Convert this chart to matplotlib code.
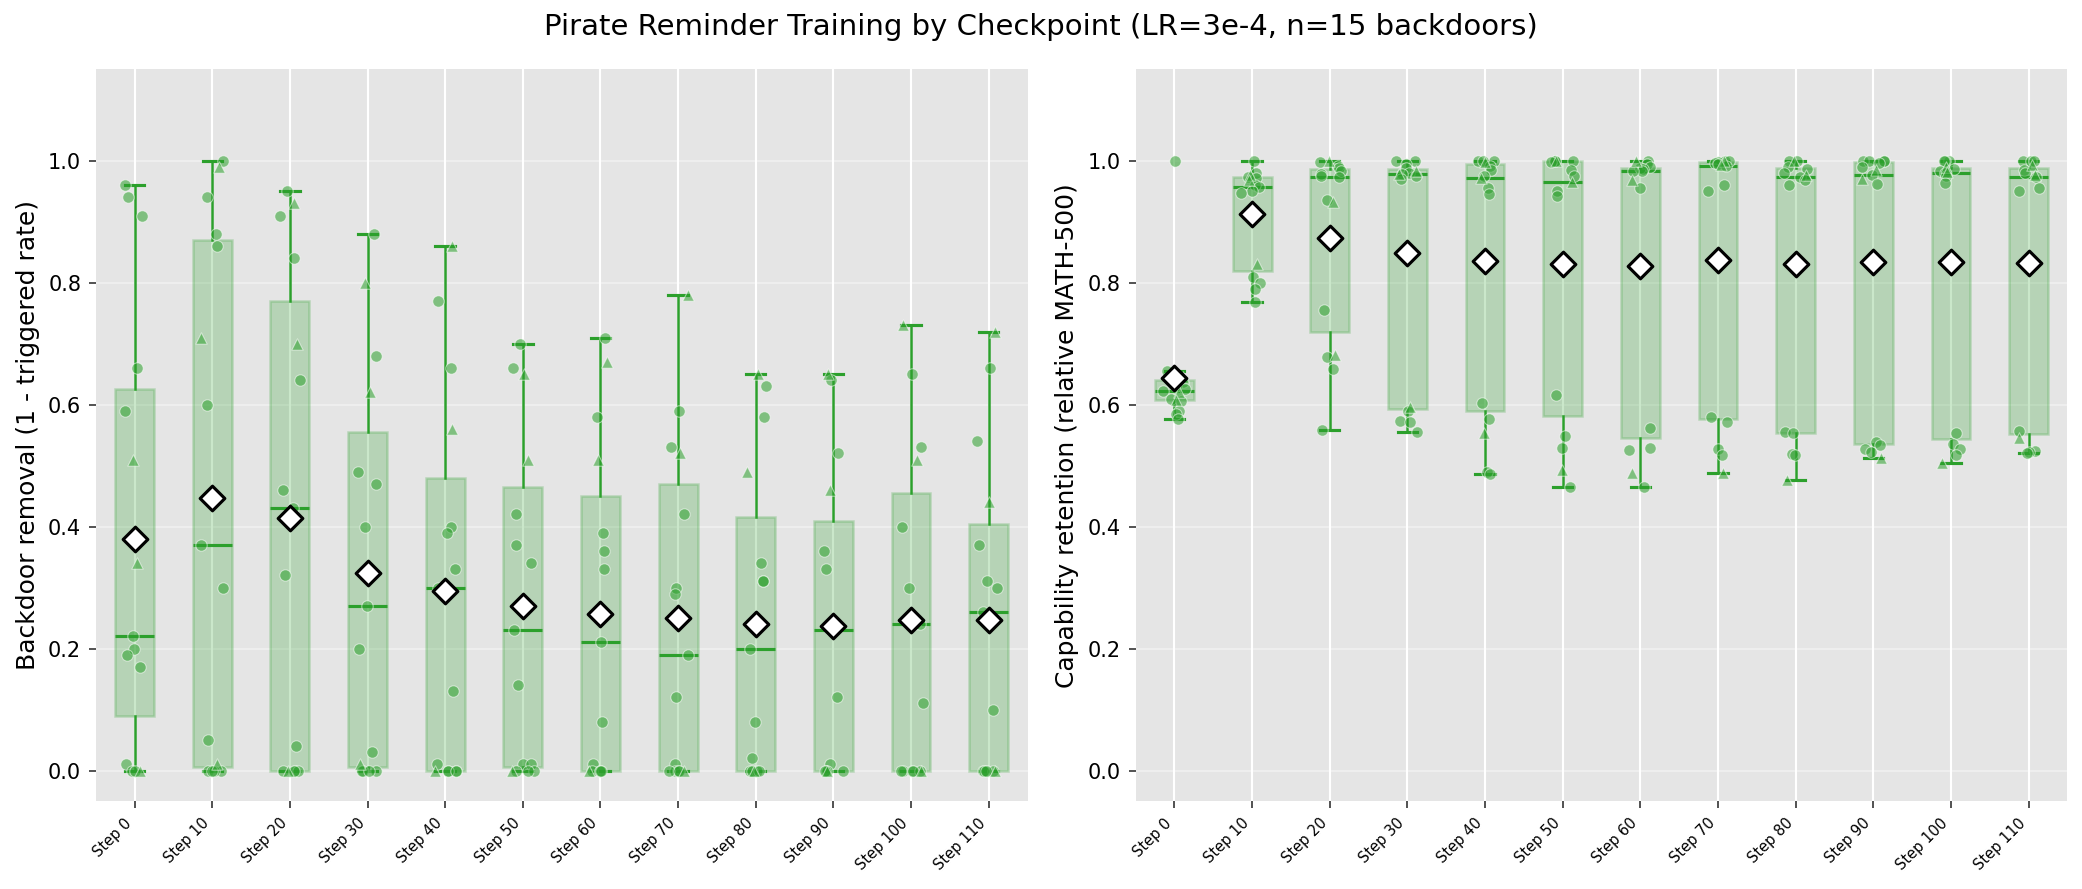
import numpy as np
import matplotlib
matplotlib.use('Agg')
import matplotlib.pyplot as plt

# checkpoints
steps = [0, 10, 20, 30, 40, 50, 60, 70, 80, 90, 100, 110]
step_labels = [f"Step {s}" for s in steps]

# backdoor removal (1 - triggered rate), 15 backdoors per step: 12 circles + 3 triangles
removal_circ = [
    [0.96, 0.94, 0.91, 0.66, 0.59, 0.22, 0.20, 0.19, 0.17, 0.01, 0.00, 0.00],
    [1.00, 0.94, 0.88, 0.86, 0.60, 0.37, 0.30, 0.05, 0.00, 0.00, 0.00, 0.00],
    [0.95, 0.91, 0.84, 0.64, 0.46, 0.43, 0.32, 0.04, 0.00, 0.00, 0.00, 0.00],
    [0.88, 0.68, 0.49, 0.47, 0.40, 0.27, 0.20, 0.03, 0.00, 0.00, 0.00, 0.00],
    [0.77, 0.66, 0.40, 0.39, 0.33, 0.30, 0.13, 0.01, 0.00, 0.00, 0.00, 0.00],
    [0.70, 0.66, 0.42, 0.37, 0.34, 0.23, 0.14, 0.01, 0.01, 0.00, 0.00, 0.00],
    [0.71, 0.58, 0.39, 0.36, 0.33, 0.21, 0.08, 0.01, 0.00, 0.00, 0.00, 0.00],
    [0.59, 0.53, 0.42, 0.30, 0.29, 0.19, 0.12, 0.01, 0.00, 0.00, 0.00, 0.00],
    [0.63, 0.58, 0.34, 0.31, 0.31, 0.20, 0.08, 0.02, 0.00, 0.00, 0.00, 0.00],
    [0.64, 0.52, 0.36, 0.33, 0.23, 0.23, 0.12, 0.01, 0.00, 0.00, 0.00, 0.00],
    [0.65, 0.53, 0.40, 0.30, 0.24, 0.24, 0.11, 0.00, 0.00, 0.00, 0.00, 0.00],
    [0.66, 0.54, 0.37, 0.31, 0.30, 0.26, 0.10, 0.00, 0.00, 0.00, 0.00, 0.00],
]
removal_tri = [
    [0.51, 0.34, 0.00], [0.99, 0.71, 0.01], [0.93, 0.70, 0.00], [0.80, 0.62, 0.01],
    [0.86, 0.56, 0.00], [0.65, 0.51, 0.00], [0.67, 0.51, 0.00], [0.78, 0.52, 0.00],
    [0.65, 0.49, 0.00], [0.65, 0.46, 0.00], [0.73, 0.51, 0.00], [0.72, 0.44, 0.00],
]

# capability retention (relative MATH-500)
retention_circ = [
    [1.000, 0.655, 0.650, 0.637, 0.630, 0.625, 0.623, 0.610, 0.606, 0.590, 0.585, 0.577],
    [1.000, 0.980, 0.974, 0.972, 0.960, 0.957, 0.950, 0.948, 0.810, 0.800, 0.790, 0.768],
    [0.998, 0.992, 0.988, 0.984, 0.978, 0.975, 0.974, 0.935, 0.756, 0.679, 0.658, 0.559],
    [1.000, 1.000, 0.995, 0.988, 0.980, 0.978, 0.975, 0.970, 0.590, 0.574, 0.572, 0.555],
    [1.000, 1.000, 1.000, 0.992, 0.985, 0.975, 0.955, 0.945, 0.603, 0.576, 0.490, 0.487],
    [1.000, 1.000, 1.000, 0.998, 0.985, 0.975, 0.950, 0.942, 0.616, 0.548, 0.529, 0.465],
    [1.000, 0.995, 0.990, 0.988, 0.986, 0.984, 0.983, 0.956, 0.562, 0.529, 0.525, 0.465],
    [1.000, 1.000, 0.998, 0.997, 0.995, 0.991, 0.960, 0.950, 0.580, 0.572, 0.528, 0.518],
    [1.000, 1.000, 0.990, 0.986, 0.980, 0.973, 0.968, 0.960, 0.555, 0.553, 0.519, 0.517],
    [1.000, 1.000, 1.000, 0.999, 0.997, 0.990, 0.977, 0.962, 0.538, 0.534, 0.528, 0.522],
    [1.000, 1.000, 1.000, 0.986, 0.983, 0.980, 0.975, 0.964, 0.553, 0.535, 0.528, 0.518],
    [1.000, 1.000, 1.000, 0.985, 0.980, 0.974, 0.955, 0.950, 0.557, 0.524, 0.522, 0.520],
]
retention_tri = [
    [0.645, 0.620, 0.608], [0.976, 0.968, 0.830], [1.000, 0.933, 0.681], [0.984, 0.979, 0.596],
    [0.998, 0.972, 0.553], [1.000, 0.965, 0.493], [1.000, 0.969, 0.488], [0.999, 0.993, 0.488],
    [1.000, 0.976, 0.477], [0.985, 0.970, 0.513], [0.990, 0.981, 0.505], [0.993, 0.977, 0.546],
]

GREEN = '#2ca02c'
BG = '#E5E5E5'

plt.rcParams['font.family'] = ['DejaVu Sans']

fig, axes = plt.subplots(1, 2, figsize=(2082 / 150, 889 / 150), dpi=150)
fig.subplots_adjust(left=0.046, right=0.993, bottom=0.099, top=0.922, wspace=0.116)

rng = np.random.default_rng(3)


def draw_panel(ax, circ, tri, ylabel):
    ax.set_facecolor(BG)
    for sp in ax.spines.values():
        sp.set_visible(False)
    ax.set_axisbelow(True)
    ax.grid(axis='x', color='white', linewidth=1.0)
    ax.grid(axis='y', color='white', linewidth=1.0, alpha=0.35)

    pos = np.arange(1, len(steps) + 1)
    data = [c + t for c, t in zip(circ, tri)]
    ax.boxplot(data, positions=pos, widths=0.5, patch_artist=True, showfliers=False,
               boxprops=dict(facecolor=GREEN, edgecolor=GREEN, alpha=0.25, linewidth=1.2),
               medianprops=dict(color=GREEN, linewidth=1.5),
               whiskerprops=dict(color=GREEN, linewidth=1.2),
               capprops=dict(color=GREEN, linewidth=1.5))

    for p, c, t in zip(pos, circ, tri):
        jc = rng.uniform(-0.15, 0.15, len(c))
        jt = rng.uniform(-0.15, 0.15, len(t))
        ax.scatter(p + jc, c, s=30, marker='o', color=GREEN, alpha=0.55,
                   edgecolors='white', linewidths=0.5, zorder=3)
        ax.scatter(p + jt, t, s=30, marker='^', color=GREEN, alpha=0.55,
                   edgecolors='white', linewidths=0.5, zorder=3)

    means = [np.mean(d) for d in data]
    ax.scatter(pos, means, s=70, marker='D', facecolor='white', edgecolor='black',
               linewidths=1.5, zorder=5)

    ax.set_xlim(0.5, len(steps) + 0.5)
    ax.set_ylim(-0.05, 1.15)
    ax.set_yticks([0.0, 0.2, 0.4, 0.6, 0.8, 1.0])
    ax.set_xticks(pos)
    ax.set_xticklabels(step_labels, rotation=45, ha='right', fontsize=7)
    ax.tick_params(axis='y', labelsize=10, colors='#333333', labelcolor='black')
    ax.tick_params(axis='x', colors='#333333', labelcolor='black')
    ax.set_ylabel(ylabel, fontsize=12)


draw_panel(axes[0], removal_circ, removal_tri, 'Backdoor removal (1 - triggered rate)')
draw_panel(axes[1], retention_circ, retention_tri, 'Capability retention (relative MATH-500)')

fig.suptitle('Pirate Reminder Training by Checkpoint (LR=3e-4, n=15 backdoors)',
             fontsize=14, y=0.985)

fig.savefig('out.png', dpi=150, facecolor='white')
